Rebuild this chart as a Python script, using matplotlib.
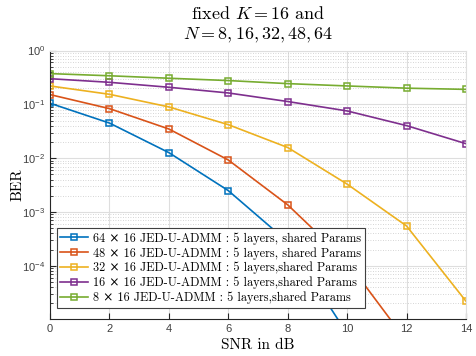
import math
import matplotlib
matplotlib.use("Agg")
import matplotlib.pyplot as plt
from matplotlib.ticker import FixedLocator, FuncFormatter, LogLocator, NullFormatter

plt.rcParams['mathtext.fontset'] = 'cm'
plt.rcParams['axes.unicode_minus'] = False

snr = [0, 2, 4, 6, 8, 10, 12, 14]

# BER (points below the axis are clipped)
ber_64 = [0.105, 0.045, 0.0127, 0.0025, 2.8e-4, 5.5e-6]
ber_48 = [0.152, 0.0834, 0.0349, 0.00927, 0.00136, 1.2e-4, 4e-6]
ber_32 = [0.22, 0.154, 0.0897, 0.042, 0.0158, 0.0033, 5.5e-4, 2.2e-5]
ber_16 = [0.30, 0.257, 0.208, 0.163, 0.113, 0.0755, 0.0403, 0.0186]
ber_8 = [0.373, 0.34, 0.306, 0.277, 0.243, 0.22, 0.20, 0.19]

labels = [
    "64 \u00d7 16 JED-U-ADMM : 5 layers, shared Params",
    "48 \u00d7 16 JED-U-ADMM : 5 layers, shared Params",
    "32 \u00d7 16 JED-U-ADMM : 5 layers,shared Params",
    "16 \u00d7 16 JED-U-ADMM : 5 layers,shared Params",
    "8 \u00d7 16 JED-U-ADMM : 5 layers,shared Params",
]
colors = ['#0072BD', '#D95319', '#EDB120', '#7E2F8E', '#77AC30']
series = [ber_64, ber_48, ber_32, ber_16, ber_8]

fig = plt.figure(figsize=(4.76, 3.56), dpi=100)
ax = fig.add_axes([0.105, 0.104, 0.874, 0.754])

for ys, lab, c in zip(series, labels, colors):
    ax.semilogy(snr[:len(ys)], ys, '-s', color=c, lw=1.2, ms=4.5,
                mfc='none', mew=1.1, label=lab)

ax.set_xlim(0, 14)
ax.set_ylim(1.03e-5, 1)
ax.xaxis.set_major_locator(FixedLocator(snr))
ax.yaxis.set_major_locator(LogLocator(base=10, numticks=10))
ax.yaxis.set_minor_locator(LogLocator(base=10, subs=range(2, 10), numticks=20))
ax.yaxis.set_minor_formatter(NullFormatter())
ax.yaxis.set_major_formatter(FuncFormatter(
    lambda v, p: r"$\mathregular{10^{%d}}$" % round(math.log10(v))))

ax.grid(True, which='major', color='#dedede', lw=0.8)
ax.grid(True, which='minor', axis='y', color='#c8c8c8', lw=0.6, ls=(0, (1, 2)))
ax.set_axisbelow(True)

ax.tick_params(which='both', direction='in', labelsize=8, labelcolor='#404040',
               color='#262626')
ax.tick_params(which='major', length=4)
ax.tick_params(which='minor', length=2)
for t in ax.get_xticklabels() + ax.get_yticklabels():
    t.set_fontfamily('Liberation Sans')
for s in ['top', 'right']:
    ax.spines[s].set_color('#dedede')
for s in ['left', 'bottom']:
    ax.spines[s].set_color('#262626')

ax.set_title("fixed $K = 16$ and\n$N = 8,16,32,48,64$", fontfamily='cmr10',
             fontsize=13, pad=8, linespacing=1.3)
ax.set_xlabel("SNR in dB", fontfamily='cmr10', fontsize=11, labelpad=3)
ax.set_ylabel("BER", fontfamily='cmr10', fontsize=11, labelpad=-2)

leg = ax.legend(loc='lower left', bbox_to_anchor=(0.016, 0.042), borderaxespad=0,
                prop={'family': ['cmr10', 'DejaVu Serif'], 'size': 8.8},
                fancybox=False, framealpha=1, edgecolor='#404040',
                handlelength=2.3, handletextpad=0.4, labelspacing=0.18,
                borderpad=0.3)
leg.get_frame().set_linewidth(0.8)

fig.savefig("out.png", dpi=100)
